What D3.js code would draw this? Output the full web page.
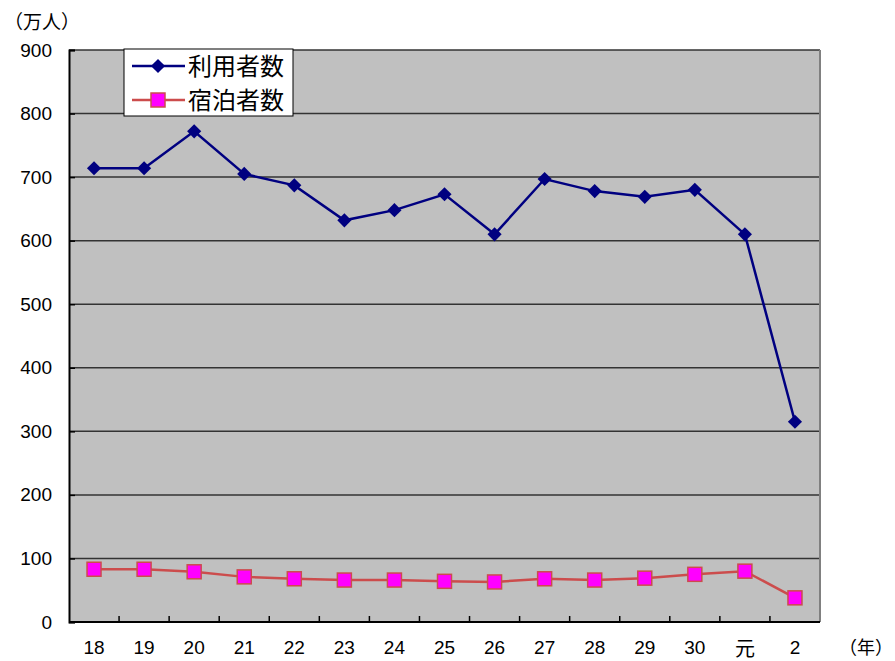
<!DOCTYPE html>
<html>
<head>
<meta charset="utf-8">
<script src="https://cdn.jsdelivr.net/npm/d3@7"></script>
<style>
body { margin: 0; background: #fff; }
text { font-family: "Liberation Sans", Arial, "Noto Sans CJK JP", sans-serif; }
.jp { font-family: "Noto Sans CJK JP", sans-serif; }
</style>
</head>
<body>
<script>
var years = ["18", "19", "20", "21", "22", "23", "24", "25", "26", "27", "28", "29", "30", "元", "2"];
var users = [714, 714, 772, 705, 687, 632, 648, 673, 610, 697, 678, 669, 680, 610, 315];
var guests = [83, 83, 79, 71, 68, 66, 66, 64, 63, 68, 66, 69, 75, 80, 38];
var yTicks = [0, 100, 200, 300, 400, 500, 600, 700, 800, 900];

function main(){
	drawChart();
}

function drawChart(){
	var width = 895, height = 661;
	var left = 69, right = 820, top = 50, bottom = 622;

	var svg = d3.select('body').append('svg').attr('width', width).attr('height', height);

	var x = d3.scaleBand().domain(years).range([left, right]);
	var y = d3.scaleLinear().domain([0, 900]).range([bottom, top]);

	// title, mostly above the top edge like in the source
	svg.append('text')
		.attr('class', 'jp')
		.attr('x', 400).attr('y', -3)
		.attr('text-anchor', 'middle')
		.attr('font-size', 20)
		.attr('fill', '#3333aa')
		.text('図　利用者数・宿泊者数の推移');

	// plot background
	svg.append('rect')
		.attr('x', left).attr('y', top)
		.attr('width', right - left).attr('height', bottom - top)
		.attr('fill', '#c0c0c0');

	// gridlines
	svg.selectAll('line.grid')
		.data(yTicks.slice(1))
		.enter()
		.append('line')
		.attr('class', 'grid')
		.attr('x1', left).attr('x2', right)
		.attr('y1', function(d){ return y(d); })
		.attr('y2', function(d){ return y(d); })
		.attr('stroke', '#333')
		.attr('stroke-width', 1.5);

	// right border
	svg.append('line')
		.attr('x1', right).attr('x2', right)
		.attr('y1', top).attr('y2', bottom)
		.attr('stroke', '#808080').attr('stroke-width', 2);

	// y axis
	var yAxis = d3.axisLeft(y).tickValues(yTicks).tickSize(-6).tickPadding(17);
	var gy = svg.append('g').attr('transform', 'translate(' + left + ',0)').call(yAxis);
	gy.select('.domain').attr('stroke', '#000').attr('stroke-width', 2);
	gy.selectAll('.tick line').attr('stroke', '#000').attr('stroke-width', 1.5);
	gy.selectAll('.tick text').attr('font-size', 19).attr('fill', '#000').attr('font-family', '"Liberation Sans", Arial, sans-serif');

	// x axis
	var gx = svg.append('g').attr('transform', 'translate(0,' + bottom + ')');
	gx.append('line')
		.attr('x1', left).attr('x2', right)
		.attr('stroke', '#000').attr('stroke-width', 2);
	gx.selectAll('line.tk')
		.data(years.slice(1))
		.enter()
		.append('line')
		.attr('class', 'tk')
		.attr('x1', function(d){ return x(d); })
		.attr('x2', function(d){ return x(d); })
		.attr('y1', 0).attr('y2', -6)
		.attr('stroke', '#000').attr('stroke-width', 1.5);
	gx.selectAll('text.lbl')
		.data(years)
		.enter()
		.append('text')
		.attr('class', function(d){ return d === '元' ? 'lbl jp' : 'lbl'; })
		.attr('x', function(d){ return x(d) + x.bandwidth() / 2; })
		.attr('y', function(d){ return d === '元' ? 34 : 32; })
		.attr('text-anchor', 'middle')
		.attr('font-size', function(d){ return d === '元' ? 20 : 19; })
		.text(function(d){ return d; });

	// units
	svg.append('text').attr('class', 'jp')
		.attr('x', 4).attr('y', 29)
		.attr('font-size', 19)
		.text('（万人）');
	svg.append('text').attr('class', 'jp')
		.attr('x', 839).attr('y', 654)
		.attr('font-size', 18)
		.text('（年）');

	var cx = function(d, i){ return x(years[i]) + x.bandwidth() / 2; };

	// guests line
	var line = d3.line().x(function(d, i){ return cx(d, i); }).y(function(d){ return y(d); });
	svg.append('path')
		.datum(guests)
		.attr('d', line)
		.attr('fill', 'none')
		.attr('stroke', '#cc4c4c')
		.attr('stroke-width', 2.5);
	svg.selectAll('rect.g')
		.data(guests)
		.enter()
		.append('rect')
		.attr('class', 'g')
		.attr('x', function(d, i){ return cx(d, i) - 7; })
		.attr('y', function(d){ return y(d) - 7; })
		.attr('width', 14).attr('height', 14)
		.attr('fill', '#ff00ff')
		.attr('stroke', '#cc4c4c')
		.attr('stroke-width', 1.5);

	// users line
	svg.append('path')
		.datum(users)
		.attr('d', line)
		.attr('fill', 'none')
		.attr('stroke', '#000080')
		.attr('stroke-width', 2.5);
	var diamond = d3.symbol().type(d3.symbolSquare).size(100);
	svg.selectAll('path.u')
		.data(users)
		.enter()
		.append('path')
		.attr('class', 'u')
		.attr('d', diamond)
		.attr('transform', function(d, i){ return 'translate(' + cx(d, i) + ',' + y(d) + ') rotate(45)'; })
		.attr('fill', '#000080');

	// legend
	var lg = svg.append('g');
	lg.append('rect')
		.attr('x', 124).attr('y', 49)
		.attr('width', 169).attr('height', 67)
		.attr('fill', '#fff')
		.attr('stroke', '#000').attr('stroke-width', 1);
	var rows = [
		{ name: '利用者数', color: '#000080', y: 66 },
		{ name: '宿泊者数', color: '#cc4c4c', y: 100 }
	];
	rows.forEach(function(r, i){
		lg.append('line')
			.attr('x1', 132).attr('x2', 185)
			.attr('y1', r.y).attr('y2', r.y)
			.attr('stroke', r.color).attr('stroke-width', 2.5);
		if (i === 0) {
			lg.append('path').attr('d', diamond)
				.attr('transform', 'translate(158,' + r.y + ') rotate(45)')
				.attr('fill', '#000080');
		} else {
			lg.append('rect')
				.attr('x', 151).attr('y', r.y - 7)
				.attr('width', 14).attr('height', 14)
				.attr('fill', '#ff00ff')
				.attr('stroke', '#cc4c4c').attr('stroke-width', 1.5);
		}
		lg.append('text').attr('class', 'jp')
			.attr('x', 188).attr('y', r.y + 9)
			.attr('font-size', 24)
			.text(r.name);
	});
}

main();
</script>
</body>
</html>
